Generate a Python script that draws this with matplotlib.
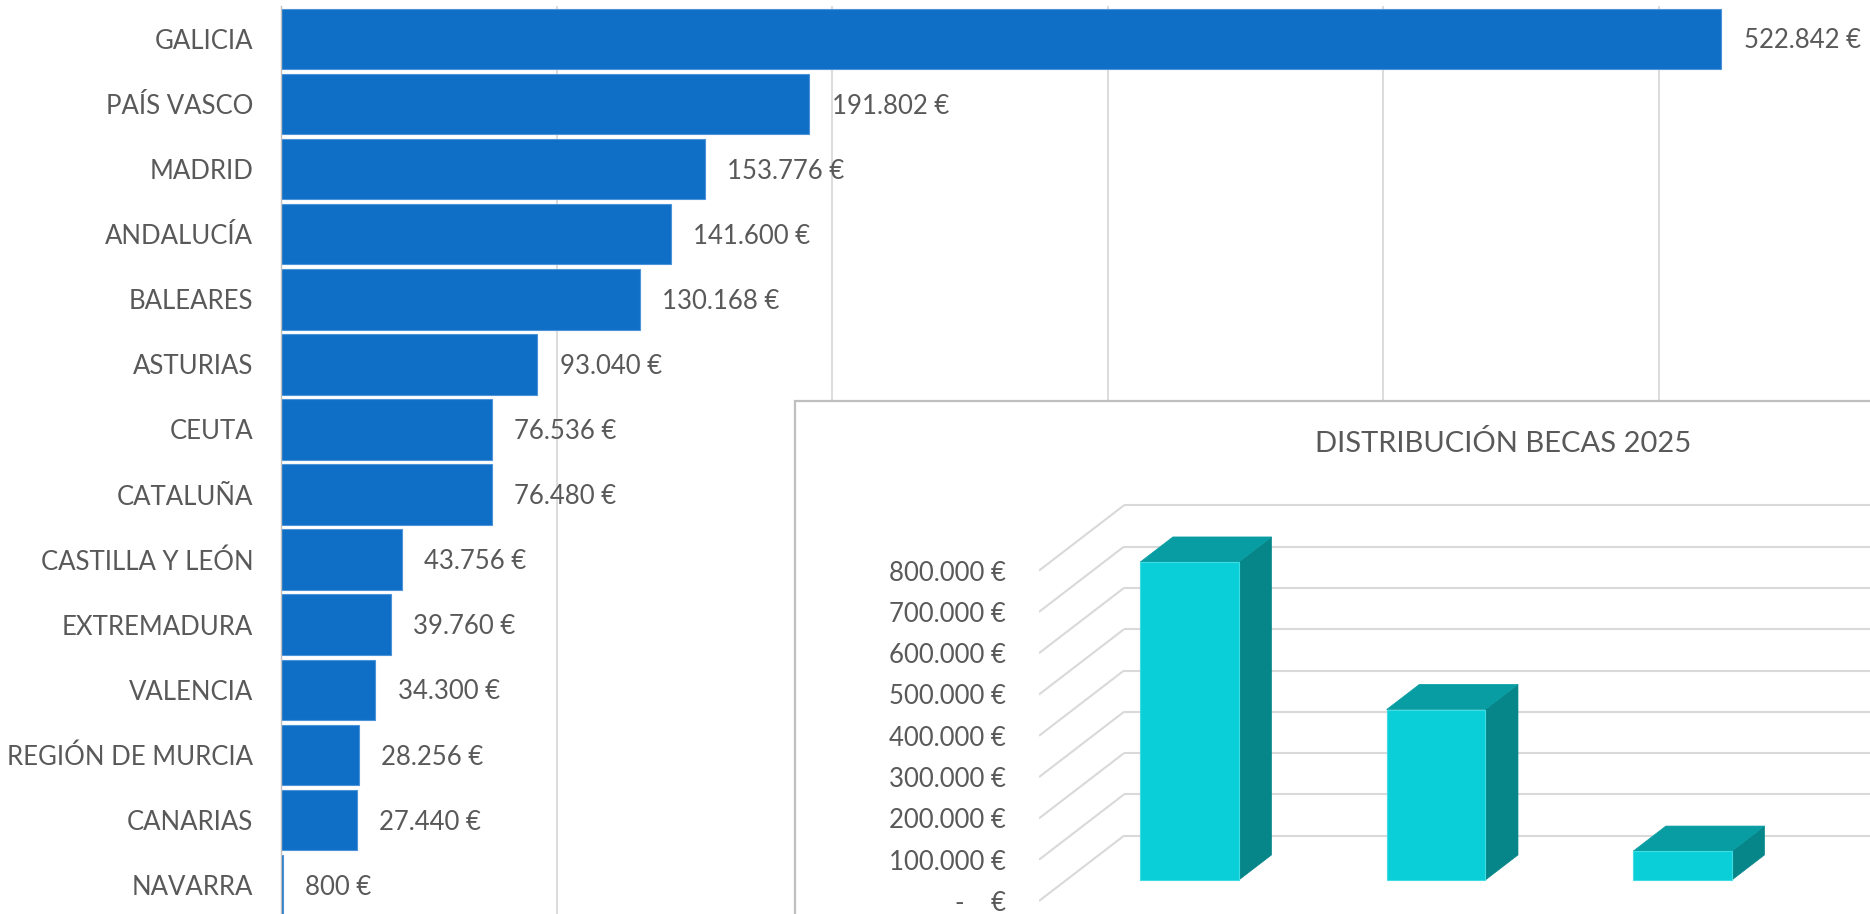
import numpy as np
import matplotlib
matplotlib.use("Agg")
import matplotlib.pyplot as plt
from matplotlib.patches import Rectangle, Polygon

plt.rcParams['font.family'] = ['Lato', 'DejaVu Sans']

# data - horizontal bars (regions)
regions = ['GALICIA', 'PAÍS VASCO', 'MADRID', 'ANDALUCÍA', 'BALEARES', 'ASTURIAS',
           'CEUTA', 'CATALUÑA', 'CASTILLA Y LEÓN', 'EXTREMADURA', 'VALENCIA',
           'REGIÓN DE MURCIA', 'CANARIAS', 'NAVARRA']
amounts = [522842, 191802, 153776, 141600, 130168, 93040, 76536, 76480,
           43756, 39760, 34300, 28256, 27440, 800]

# data - inset 3D columns
col_values = [770000, 413000, 70000]
col_ticks = [0, 100000, 200000, 300000, 400000, 500000, 600000, 700000, 800000]

W, H = 1870, 914
TXT = '#595959'
GRID = '#D9D9D9'
FS = 18.5


def eur(v):
    return '{:,}'.format(v).replace(',', '.') + ' €'


fig = plt.figure(figsize=(W / 100, H / 100), dpi=100)

# ---- main horizontal bar chart
px_per_100k = 275.5
ax_left = 281
band_top, band_bot = 6.3, 917.7
ax = fig.add_axes([ax_left / W, (H - band_bot) / H, 1 - ax_left / W, (band_bot - band_top) / H])
ypos = np.arange(len(regions))
ax.barh(ypos, amounts, height=0.93, color='#0F6FC6', edgecolor='#4C93DA', linewidth=0.8, zorder=2)
ax.set_ylim(len(regions) - 0.5, -0.5)
ax.set_xlim(0, (W - ax_left) / px_per_100k * 100000)
ax.set_xticks([100000, 200000, 300000, 400000, 500000])
ax.set_xticklabels([])
ax.grid(axis='x', color=GRID, linewidth=1.3, zorder=0)
ax.set_yticks(ypos)
ax.set_yticklabels(regions, fontsize=FS, color=TXT)
ax.tick_params(axis='y', length=0, pad=20)
ax.tick_params(axis='x', length=0)
for s in ['top', 'right', 'bottom']:
    ax.spines[s].set_visible(False)
ax.spines['left'].set_color('#BFBFBF')
ax.spines['left'].set_linewidth(1.0)
for i, v in enumerate(amounts):
    ax.annotate(eur(v), xy=(v, i), xytext=(16, -1.5), textcoords='offset points',
                va='center', ha='left', fontsize=FS, color=TXT)

# ---- inset box
box_left, box_top = 795, 400.5
rect = Rectangle((box_left / W, -0.1), 1.0, 0.1 + (H - box_top) / H, transform=fig.transFigure,
                 facecolor='white', edgecolor='#BFBFBF', linewidth=1.6, zorder=1)
fig.add_artist(rect)
fig.text(1503 / W, 1 - 443.6 / H, 'DISTRIBUCIÓN BECAS 2025', ha='center', va='center',
         fontsize=21, color=TXT, zorder=3)

# ---- inset pseudo-3D column chart
px_cat = 246.5
px_per_eur = 41.3 / 100000
in_left, in_top = 1039, 470
zero_px = 901
ax2 = fig.add_axes([in_left / W, 0, 1 - in_left / W, (H - in_top) / H])
ax2.set_zorder(2)
ax2.patch.set_visible(False)
xmax = -0.5 + (W - in_left) / px_cat
ax2.set_xlim(-0.5, xmax)
ax2.set_ylim(-(H - zero_px) / px_per_eur, (zero_px - in_top) / px_per_eur)
DX = 85 / px_cat
DY = 65.3 / px_per_eur

for v in col_ticks:
    ax2.plot([-0.5, -0.5 + DX], [v, v + DY], color=GRID, lw=1.5, zorder=1, solid_capstyle='butt')
    ax2.plot([-0.5 + DX, xmax], [v + DY, v + DY], color=GRID, lw=1.5, zorder=1, solid_capstyle='butt')

f0, f1 = 0.32, 0.705
bw = 0.40
for i, v in enumerate(col_values):
    xl, xr = i - bw / 2, i + bw / 2
    front = [(xl + f0 * DX, f0 * DY), (xr + f0 * DX, f0 * DY),
             (xr + f0 * DX, v + f0 * DY), (xl + f0 * DX, v + f0 * DY)]
    top = [(xl + f0 * DX, v + f0 * DY), (xr + f0 * DX, v + f0 * DY),
           (xr + f1 * DX, v + f1 * DY), (xl + f1 * DX, v + f1 * DY)]
    side = [(xr + f0 * DX, f0 * DY), (xr + f1 * DX, f1 * DY),
            (xr + f1 * DX, v + f1 * DY), (xr + f0 * DX, v + f0 * DY)]
    ax2.add_patch(Polygon(side, closed=True, facecolor='#068689', edgecolor='#068689', lw=0.5, zorder=3))
    ax2.add_patch(Polygon(top, closed=True, facecolor='#089DA3', edgecolor='#089DA3', lw=0.5, zorder=3))
    ax2.add_patch(Polygon(front, closed=True, facecolor='#0BCFD8', edgecolor='#3FDCE3', lw=0.8, zorder=4))

ax2.set_xticks([])
ax2.set_yticks(col_ticks)
ax2.set_yticklabels(['-    €'] + [eur(v) for v in col_ticks[1:]], fontsize=FS, color=TXT)
ax2.tick_params(axis='y', length=0, pad=23.8)
for s in ax2.spines.values():
    s.set_visible(False)

fig.savefig('out.png', dpi=100)
